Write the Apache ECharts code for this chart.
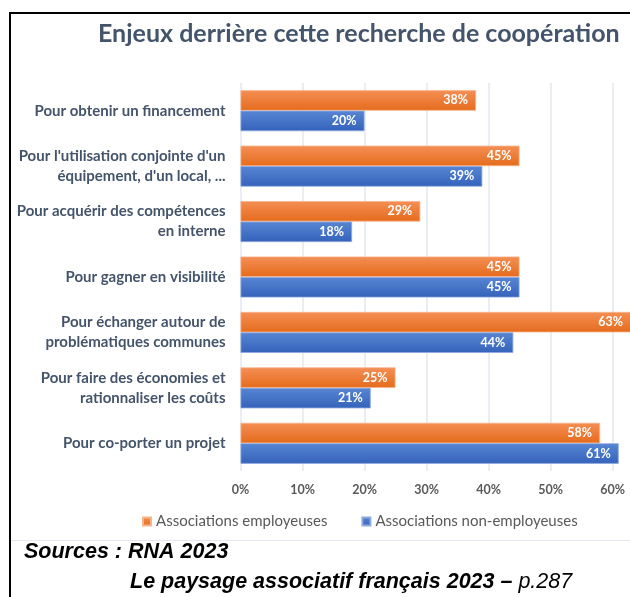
<!DOCTYPE html>
<html>
<head>
<meta charset="utf-8">
<script src="https://cdn.jsdelivr.net/npm/echarts@6/dist/echarts.min.js"></script>
<style>
  html, body { margin: 0; padding: 0; background: #fff; }
  #chart { width: 630px; height: 597px; }
</style>
</head>
<body>
<div id="chart"></div>
<script>
// Reasons for seeking cooperation, share of associations (%)
const categories = [
  "Pour obtenir un financement",
  "Pour l'utilisation conjointe d'un\néquipement, d'un local, ...",
  "Pour acquérir des compétences\nen interne",
  "Pour gagner en visibilité",
  "Pour échanger autour de\nproblématiques communes",
  "Pour faire des économies et\nrationnaliser les coûts",
  "Pour co-porter un projet"
];
const employeuses = [38, 45, 29, 45, 63, 25, 58];
const nonEmployeuses = [20, 39, 18, 45, 44, 21, 61];
const seriesNames = ["Associations employeuses", "Associations non-employeuses"];
const axisTicks = [0, 10, 20, 30, 40, 50, 60, 70];

const chart = echarts.init(document.getElementById('chart'), null, { renderer: 'canvas' });

const FONT = 'Lato, "Open Sans", sans-serif';
const SRC_FONT = '"Liberation Sans", Arial, sans-serif';

function grad(top, bottom) {
  return new echarts.graphic.LinearGradient(0, 0, 0, 1, [
    { offset: 0, color: top },
    { offset: 1, color: bottom }
  ]);
}

const barLabel = {
  show: true,
  position: 'insideRight',
  distance: 8,
  color: '#ffffff',
  fontFamily: FONT,
  fontWeight: 'bold',
  fontSize: 12.5,
  formatter: p => p.value + '%'
};

chart.setOption({
  animation: false,
  backgroundColor: '#ffffff',
  title: {
    text: 'Enjeux derrière cette recherche de coopération',
    left: 93,
    top: 16,
    textStyle: {
      color: '#44546A',
      fontFamily: FONT,
      fontWeight: 'bold',
      fontSize: 25
    }
  },
  legend: {
    data: seriesNames,
    left: 137,
    top: 509,
    icon: 'rect',
    itemWidth: 8,
    itemHeight: 8,
    itemGap: 34,
    textStyle: {
      color: '#595959',
      fontFamily: FONT,
      fontSize: 15
    }
  },
  grid: {
    left: 240.5,
    right: -44.5,
    top: 83,
    bottom: 126,
    outerBoundsMode: 'none'
  },
  xAxis: {
    type: 'value',
    min: axisTicks[0],
    max: axisTicks[axisTicks.length - 1],
    interval: 10,
    axisLine: { show: false },
    axisTick: { show: false },
    axisLabel: {
      formatter: '{value}%',
      color: '#595959',
      fontFamily: FONT,
      fontWeight: 'bold',
      fontSize: 12.5,
      margin: 12
    },
    splitLine: { lineStyle: { color: '#E4E7EE', width: 1.5 } }
  },
  yAxis: {
    type: 'category',
    inverse: true,
    data: categories,
    axisLine: { show: false },
    axisTick: { show: false },
    axisLabel: {
      color: '#44546A',
      fontFamily: FONT,
      fontWeight: 'bold',
      fontSize: 15,
      lineHeight: 20,
      align: 'right',
      margin: 15
    }
  },
  series: [
    {
      name: seriesNames[0],
      type: 'bar',
      data: employeuses,
      barWidth: 20.5,
      barGap: '0%',
      itemStyle: {
        color: grad('#F48F55', '#E56B1C'),
        borderColor: '#F7B48C',
        borderWidth: 0.8
      },
      label: barLabel
    },
    {
      name: seriesNames[1],
      type: 'bar',
      data: nonEmployeuses,
      barWidth: 20.5,
      barGap: '0%',
      itemStyle: {
        color: grad('#5886D4', '#3462BA'),
        borderColor: '#8EA9DE',
        borderWidth: 0.8
      },
      label: barLabel
    }
  ],
  graphic: [
    // frame
    { type: 'line', shape: { x1: 9, y1: 13, x2: 630, y2: 13 }, style: { stroke: '#000', lineWidth: 2 } },
    { type: 'line', shape: { x1: 10, y1: 13, x2: 10, y2: 597 }, style: { stroke: '#000', lineWidth: 2 } },
    // separator under the legend
    { type: 'line', shape: { x1: 11, y1: 540.5, x2: 630, y2: 540.5 }, style: { stroke: '#E6E8EE', lineWidth: 1 } },
    {
      type: 'text',
      left: 24,
      top: 541,
      style: {
        text: 'Sources : RNA 2023',
        font: 'italic bold 21.5px ' + SRC_FONT,
        fill: '#000'
      }
    },
    {
      type: 'text',
      left: 130,
      top: 571,
      style: {
        text: '{b|Le paysage associatif français 2023 –}{r| p.287}',
        rich: {
          b: { font: 'italic bold 21.5px ' + SRC_FONT, fill: '#000' },
          r: { font: 'italic 21.5px ' + SRC_FONT, fill: '#000' }
        }
      }
    }
  ]
});
</script>
</body>
</html>
